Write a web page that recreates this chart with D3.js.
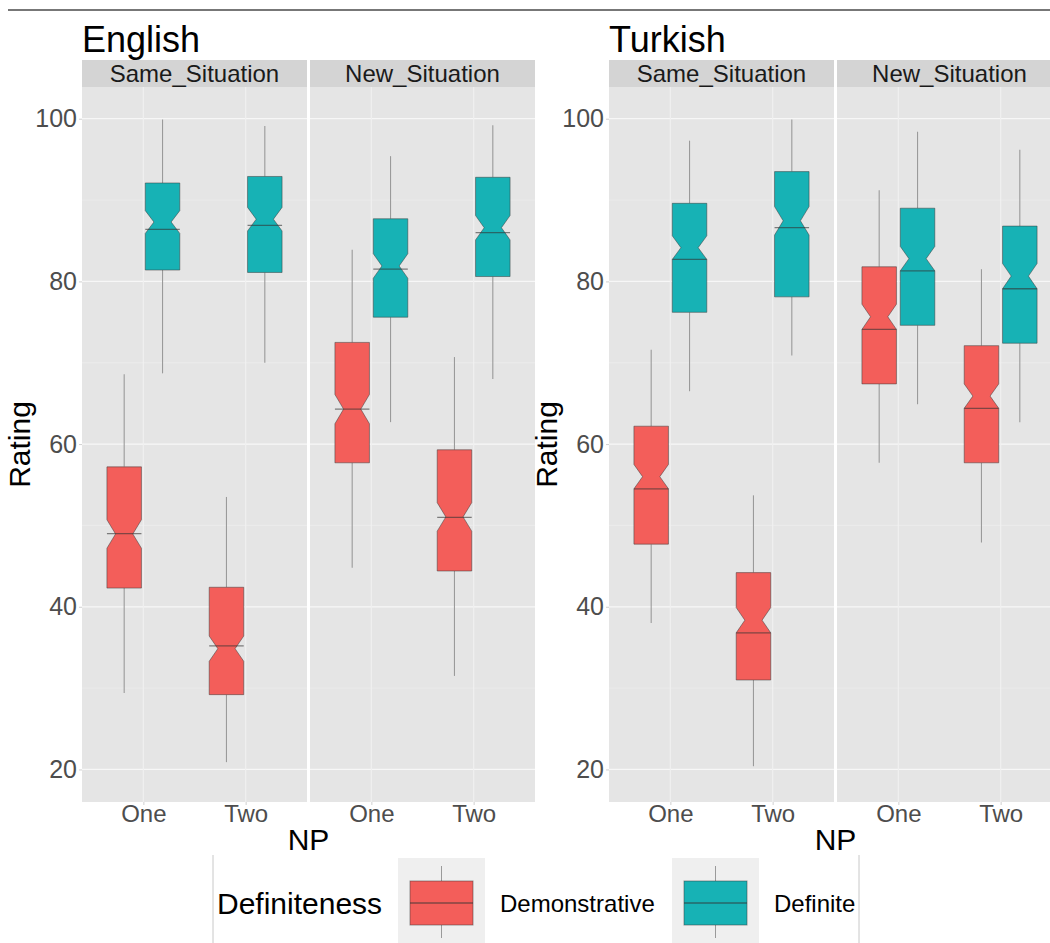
<!DOCTYPE html>
<html>
<head>
<meta charset="utf-8">
<script src="https://cdn.jsdelivr.net/npm/d3@7"></script>
<style>
  html, body { margin: 0; padding: 0; background: #ffffff; }
  svg { display: block; font-family: 'Liberation Sans', Arial, sans-serif; }
</style>
</head>
<body>
<svg id="chart"></svg>
<script>
// Categories
const languages = ['English', 'Turkish'];
const situations = ['Same_Situation', 'New_Situation'];
const nps = ['One', 'Two'];
const definiteness = ['Demonstrative', 'Definite'];

// One entry per box: language, situation, NP, definiteness
const boxKeys = [
  ['English', 'Same_Situation', 'One', 'Demonstrative'],
  ['English', 'Same_Situation', 'One', 'Definite'],
  ['English', 'Same_Situation', 'Two', 'Demonstrative'],
  ['English', 'Same_Situation', 'Two', 'Definite'],
  ['English', 'New_Situation', 'One', 'Demonstrative'],
  ['English', 'New_Situation', 'One', 'Definite'],
  ['English', 'New_Situation', 'Two', 'Demonstrative'],
  ['English', 'New_Situation', 'Two', 'Definite'],
  ['Turkish', 'Same_Situation', 'One', 'Demonstrative'],
  ['Turkish', 'Same_Situation', 'One', 'Definite'],
  ['Turkish', 'Same_Situation', 'Two', 'Demonstrative'],
  ['Turkish', 'Same_Situation', 'Two', 'Definite'],
  ['Turkish', 'New_Situation', 'One', 'Demonstrative'],
  ['Turkish', 'New_Situation', 'One', 'Definite'],
  ['Turkish', 'New_Situation', 'Two', 'Demonstrative'],
  ['Turkish', 'New_Situation', 'Two', 'Definite']
];

// Box statistics (Rating), same order as boxKeys
const whiskerLow  = [29.4, 68.7, 20.9, 70.0, 44.8, 62.7, 31.5, 68.0, 38.0, 66.5, 20.4, 70.9, 57.7, 64.9, 47.9, 62.7];
const quartile1   = [42.3, 81.4, 29.2, 81.1, 57.7, 75.6, 44.4, 80.6, 47.7, 76.2, 31.0, 78.1, 67.4, 74.6, 57.7, 72.4];
const medians     = [49.0, 86.4, 35.2, 86.9, 64.3, 81.5, 51.0, 86.0, 54.5, 82.7, 36.8, 86.6, 74.1, 81.3, 64.4, 79.1];
const quartile3   = [57.2, 92.1, 42.4, 92.9, 72.5, 87.7, 59.3, 92.8, 62.2, 89.6, 44.2, 93.5, 81.8, 89.0, 72.1, 86.8];
const whiskerHigh = [68.6, 99.9, 53.5, 99.1, 83.9, 95.4, 70.7, 99.2, 71.6, 97.3, 53.7, 99.9, 91.2, 98.4, 81.5, 96.2];
const notchHigh   = [50.7, 88.7, 36.4, 89.1, 66.1, 83.4, 52.8, 88.1, 57.5, 85.6, 39.9, 89.2, 77.2, 84.3, 67.4, 82.2];
const notchLow    = [47.2, 85.9, 33.3, 86.2, 62.5, 80.4, 49.3, 85.1, 54.5, 82.7, 36.8, 85.7, 74.1, 81.3, 64.4, 79.1];

// Axis ticks
const yTicks = [20, 40, 60, 80, 100];
const yMinorTicks = [30, 50, 70, 90];

const fillColors = { 'Demonstrative': '#f35e5a', 'Definite': '#17b2b5' };

const width = 1050;
const height = 943;

const svg = d3.select('#chart')
  .attr('width', width)
  .attr('height', height);

// Thin rule across the top
svg.append('line')
  .attr('x1', 8).attr('x2', width)
  .attr('y1', 10).attr('y2', 10)
  .attr('stroke', '#777777')
  .attr('stroke-width', 2);

// Layout of the two plots (each has two facet panels)
const plotLeft = { English: 82, Turkish: 609 };
const panelW = 225;
const panelGap = 3;
const stripTop = 60;
const panelTop = 87;
const panelBottom = 802;

const y = d3.scaleLinear()
  .domain([16.0, 103.9])
  .range([panelBottom, panelTop]);

const boxes = boxKeys.map((k, i) => ({
  language: k[0], situation: k[1], np: k[2], def: k[3],
  lo: whiskerLow[i], q1: quartile1[i], med: medians[i], q3: quartile3[i],
  hi: whiskerHigh[i], nU: notchHigh[i], nL: notchLow[i]
}));

languages.forEach(lang => {
  const left = plotLeft[lang];
  const g = svg.append('g').attr('class', `plot-${lang}`);

  // Title
  g.append('text')
    .attr('x', left)
    .attr('y', 52)
    .attr('font-size', 36)
    .attr('fill', '#000')
    .text(lang);

  situations.forEach((sit, si) => {
    const x0 = left + si * (panelW + panelGap);
    const x = d3.scalePoint()
      .domain(nps)
      .range([x0, x0 + panelW])
      .padding(0.6);
    const step = x.step();

    // Strip
    g.append('rect')
      .attr('x', x0).attr('y', stripTop)
      .attr('width', panelW).attr('height', panelTop - stripTop)
      .attr('fill', '#d4d4d4');
    g.append('text')
      .attr('x', x0 + panelW / 2)
      .attr('y', (stripTop + panelTop) / 2)
      .attr('dy', '0.36em')
      .attr('text-anchor', 'middle')
      .attr('font-size', 24)
      .attr('fill', '#1a1a1a')
      .text(sit);

    // Panel background + grid
    g.append('rect')
      .attr('x', x0).attr('y', panelTop)
      .attr('width', panelW).attr('height', panelBottom - panelTop)
      .attr('fill', '#e5e5e5');

    const grid = g.append('g').attr('class', 'grid');
    grid.selectAll('line.minor')
      .data(yMinorTicks)
      .join('line')
      .attr('class', 'minor')
      .attr('x1', x0).attr('x2', x0 + panelW)
      .attr('y1', d => y(d)).attr('y2', d => y(d))
      .attr('stroke', '#f0f0f0').attr('stroke-width', 0.6);
    grid.selectAll('line.major')
      .data(yTicks)
      .join('line')
      .attr('class', 'major')
      .attr('x1', x0).attr('x2', x0 + panelW)
      .attr('y1', d => y(d)).attr('y2', d => y(d))
      .attr('stroke', '#f7f7f7').attr('stroke-width', 1.2);
    grid.selectAll('line.vmajor')
      .data(nps)
      .join('line')
      .attr('class', 'vmajor')
      .attr('x1', d => x(d)).attr('x2', d => x(d))
      .attr('y1', panelTop).attr('y2', panelBottom)
      .attr('stroke', '#f0f0f0').attr('stroke-width', 1.2);

    // X axis labels
    const xAxis = d3.axisBottom(x).tickSize(3).tickPadding(0);
    const xg = g.append('g')
      .attr('transform', `translate(0,${panelBottom})`)
      .call(xAxis);
    xg.select('.domain').remove();
    xg.selectAll('line').attr('stroke', '#d0d0d0');
    xg.selectAll('text')
      .attr('font-size', 24)
      .attr('font-family', "'Liberation Sans', Arial, sans-serif")
      .attr('fill', '#4d4d4d');

    // Boxes
    const panelBoxes = boxes.filter(b => b.language === lang && b.situation === sit);
    const dodge = step * 0.1875;
    const halfW = step * 0.16875;
    const indent = halfW / 2;

    panelBoxes.forEach(b => {
      const cx = x(b.np) + (b.def === 'Demonstrative' ? -dodge : dodge);
      const xmin = cx - halfW;
      const xmax = cx + halfW;
      const pinch = y((b.nU + b.nL) / 2);

      // Whiskers
      g.append('line')
        .attr('x1', cx).attr('x2', cx)
        .attr('y1', y(b.hi)).attr('y2', y(b.q3))
        .attr('stroke', '#9a9a9a').attr('stroke-width', 1.1);
      g.append('line')
        .attr('x1', cx).attr('x2', cx)
        .attr('y1', y(b.q1)).attr('y2', y(b.lo))
        .attr('stroke', '#9a9a9a').attr('stroke-width', 1.1);

      // Notched box
      const pts = [
        [xmin, y(b.q3)], [xmin, y(b.nU)], [xmin + indent, pinch], [xmin, y(b.nL)], [xmin, y(b.q1)],
        [xmax, y(b.q1)], [xmax, y(b.nL)], [xmax - indent, pinch], [xmax, y(b.nU)], [xmax, y(b.q3)]
      ];
      g.append('path')
        .attr('d', 'M' + pts.map(p => p.join(',')).join('L') + 'Z')
        .attr('fill', fillColors[b.def])
        .attr('stroke', '#3a3a3a')
        .attr('stroke-opacity', 0.5)
        .attr('stroke-width', 1);

      // Median
      g.append('line')
        .attr('x1', xmin).attr('x2', xmax)
        .attr('y1', y(b.med)).attr('y2', y(b.med))
        .attr('stroke', '#333333')
        .attr('stroke-opacity', 0.6)
        .attr('stroke-width', 1.3);
    });
  });

  // Y axis
  const yAxis = d3.axisLeft(y).tickValues(yTicks).tickSize(3).tickPadding(2);
  const yg = g.append('g')
    .attr('transform', `translate(${left},0)`)
    .call(yAxis);
  yg.select('.domain').remove();
  yg.selectAll('line').attr('stroke', '#d0d0d0');
  yg.selectAll('text')
    .attr('font-size', 25)
    .attr('font-family', "'Liberation Sans', Arial, sans-serif")
    .attr('fill', '#4d4d4d');

  // Axis titles
  g.append('text')
    .attr('transform', `translate(${left - 52},${(panelTop + panelBottom) / 2}) rotate(-90)`)
    .attr('text-anchor', 'middle')
    .attr('font-size', 30)
    .attr('fill', '#000')
    .text('Rating');
  g.append('text')
    .attr('x', left + panelW + panelGap / 2)
    .attr('y', 850)
    .attr('text-anchor', 'middle')
    .attr('font-size', 30)
    .attr('fill', '#000')
    .text('NP');
});

// Legend
const legend = svg.append('g').attr('class', 'legend');
[213, 859].forEach(lx => {
  legend.append('line')
    .attr('x1', lx).attr('x2', lx)
    .attr('y1', 855).attr('y2', height)
    .attr('stroke', '#c8c8c8').attr('stroke-width', 1);
});
legend.append('text')
  .attr('x', 217).attr('y', 903)
  .attr('dy', '0.36em')
  .attr('font-size', 30)
  .attr('fill', '#000')
  .text('Definiteness');

const keyX = { 'Demonstrative': 398, 'Definite': 672 };
definiteness.forEach(d => {
  const kx = keyX[d];
  legend.append('rect')
    .attr('x', kx).attr('y', 858)
    .attr('width', 87).attr('height', height - 858)
    .attr('fill', '#efefef');
  legend.append('line')
    .attr('x1', kx + 43.5).attr('x2', kx + 43.5)
    .attr('y1', 866).attr('y2', 938)
    .attr('stroke', '#9a9a9a').attr('stroke-width', 1);
  legend.append('rect')
    .attr('x', kx + 12).attr('y', 881)
    .attr('width', 63).attr('height', 44)
    .attr('fill', fillColors[d])
    .attr('stroke', '#3a3a3a').attr('stroke-opacity', 0.5).attr('stroke-width', 1);
  legend.append('line')
    .attr('x1', kx + 12).attr('x2', kx + 75)
    .attr('y1', 903).attr('y2', 903)
    .attr('stroke', '#333333').attr('stroke-opacity', 0.6).attr('stroke-width', 1.3);
  legend.append('text')
    .attr('x', kx + 102).attr('y', 903)
    .attr('dy', '0.36em')
    .attr('font-size', 24)
    .attr('fill', '#000')
    .text(d);
});
</script>
</body>
</html>
